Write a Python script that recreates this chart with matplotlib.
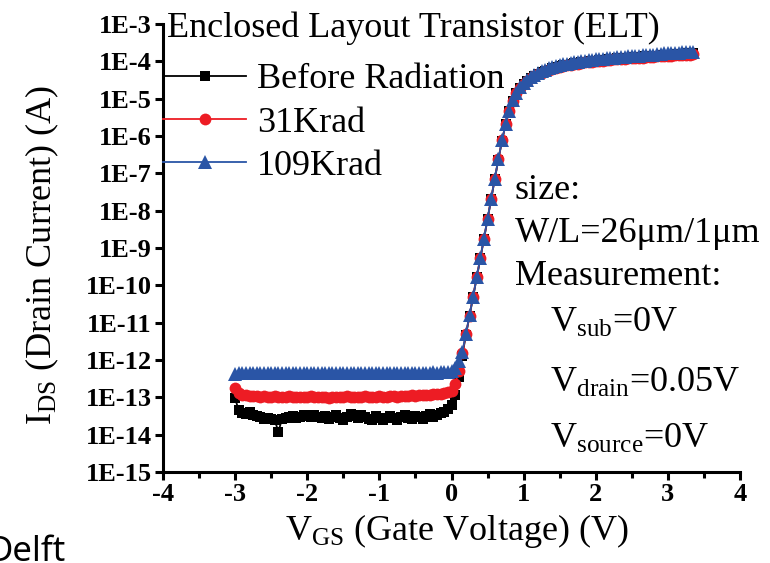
import numpy as np
import matplotlib
matplotlib.use("Agg")
import matplotlib.pyplot as plt

plt.rcParams['font.family'] = ['Liberation Serif', 'DejaVu Serif']
plt.rcParams['mathtext.fontset'] = 'custom'
plt.rcParams['mathtext.rm'] = 'Liberation Serif'
plt.rcParams['mathtext.it'] = 'Liberation Serif:italic'
plt.rcParams['mathtext.bf'] = 'Liberation Serif:bold'

# Gate voltage sweep (V)
vgs = np.round(np.arange(-3.0, 3.351, 0.05), 2)

# log10 of drain current (A)
before_log = [
    -13.03, -13.35, -13.42, -13.45, -13.40, -13.47, -13.50, -13.52, -13.58, -13.55,
    -13.57, -13.62, -13.92, -13.58, -13.55, -13.52, -13.50, -13.55, -13.52, -13.48,
    -13.50, -13.53, -13.47, -13.52, -13.55, -13.50, -13.58, -13.53, -13.48, -13.55,
    -13.60, -13.52, -13.45, -13.50, -13.55, -13.48, -13.52, -13.57, -13.60, -13.50,
    -13.55, -13.62, -13.55, -13.50, -13.56, -13.60, -13.52, -13.48, -13.55, -13.58,
    -13.50, -13.53, -13.57, -13.50, -13.45, -13.52, -13.48, -13.42, -13.38, -13.30,
    -13.20,
    -12.95, -12.45, -11.88, -11.33, -10.82, -10.31, -9.79, -9.28, -8.76, -8.23,
    -7.69, -7.15, -6.63, -6.13, -5.69, -5.33, -5.06, -4.86, -4.71,
    -4.60, -4.52, -4.45, -4.39, -4.33, -4.29, -4.25, -4.22, -4.19, -4.16,
    -4.13, -4.11, -4.09, -4.07, -4.05, -4.04, -4.02, -4.01, -4.00, -3.99,
    -3.98, -3.97, -3.96, -3.95, -3.94, -3.93, -3.92, -3.92, -3.91, -3.90,
    -3.89, -3.89, -3.88, -3.87, -3.87, -3.86, -3.85, -3.85, -3.84, -3.83,
    -3.83, -3.82, -3.81, -3.81, -3.80, -3.79, -3.79, -3.78,
]

krad31_log = [
    -12.76, -12.88, -12.93, -12.95, -12.96, -12.97, -12.96, -12.98, -12.97, -12.99,
    -12.98, -12.97, -12.99, -13.00, -12.98, -12.97, -12.99, -12.98, -13.00, -12.99,
    -12.98, -12.97, -12.99, -13.00, -12.98, -12.99, -13.01, -12.99, -12.98, -13.00,
    -12.99, -12.97, -12.98, -13.00, -12.99, -12.98, -12.97, -12.98, -12.99, -12.98,
    -12.97, -12.98, -12.99, -12.97, -12.96, -12.98, -12.97, -12.96, -12.97, -12.95,
    -12.96, -12.95, -12.94, -12.95, -12.93, -12.92, -12.91, -12.90, -12.88, -12.86,
    -12.82,
    -12.65, -12.30, -11.82, -11.31, -10.81, -10.30, -9.78, -9.27, -8.75, -8.22,
    -7.68, -7.14, -6.62, -6.12, -5.69, -5.33, -5.06, -4.86, -4.71,
    -4.60, -4.52, -4.45, -4.39, -4.34, -4.30, -4.26, -4.23, -4.20, -4.17,
    -4.15, -4.13, -4.11, -4.09, -4.07, -4.06, -4.04, -4.03, -4.02, -4.01,
    -4.00, -3.99, -3.98, -3.97, -3.96, -3.95, -3.94, -3.94, -3.93, -3.92,
    -3.92, -3.91, -3.90, -3.90, -3.89, -3.88, -3.88, -3.87, -3.86, -3.86,
    -3.85, -3.85, -3.84, -3.83, -3.83, -3.82, -3.82, -3.81,
]

krad109_log = [
    -12.37, -12.36, -12.35, -12.36, -12.35, -12.34, -12.35, -12.36, -12.35, -12.35,
    -12.34, -12.35, -12.36, -12.35, -12.34, -12.35, -12.35, -12.36, -12.35, -12.34,
    -12.35, -12.35, -12.36, -12.35, -12.34, -12.35, -12.35, -12.36, -12.35, -12.34,
    -12.35, -12.36, -12.35, -12.34, -12.35, -12.35, -12.36, -12.35, -12.34, -12.35,
    -12.35, -12.36, -12.35, -12.34, -12.35, -12.35, -12.34, -12.35, -12.34, -12.35,
    -12.34, -12.34, -12.35, -12.34, -12.34, -12.33, -12.34, -12.33, -12.33, -12.32,
    -12.30,
    -12.22, -12.02, -11.78, -11.30, -10.80, -10.30, -9.78, -9.27, -8.75, -8.22,
    -7.68, -7.14, -6.62, -6.12, -5.68, -5.32, -5.04, -4.84, -4.69,
    -4.58, -4.50, -4.43, -4.37, -4.31, -4.27, -4.23, -4.19, -4.16, -4.13,
    -4.10, -4.08, -4.06, -4.04, -4.02, -4.01, -3.99, -3.98, -3.97, -3.96,
    -3.95, -3.94, -3.93, -3.92, -3.91, -3.90, -3.89, -3.88, -3.88, -3.87,
    -3.86, -3.85, -3.85, -3.84, -3.83, -3.82, -3.82, -3.81, -3.80, -3.79,
    -3.79, -3.78, -3.77, -3.77, -3.76, -3.75, -3.75, -3.74,
]

labels = ['Before Radiation', '31Krad', '109Krad']
colors = ['#000000', '#ED1C24', '#2A55A6']
markers = ['s', 'o', '^']
msizes = [7.5, 8.5, 9.5]

ytick_exps = list(range(-15, -2))
ytick_labels = ['1E%d' % e for e in ytick_exps]
xticks = [-4, -3, -2, -1, 0, 1, 2, 3, 4]

W, H = 770, 563
fig = plt.figure(figsize=(W / 100, H / 100), dpi=100)
ax = fig.add_axes([163 / W, 1 - 472 / H, (740 - 163) / W, (472 - 24) / H])

series = [before_log, krad31_log, krad109_log]
for lg, lab, c, m, ms in zip(series, labels, colors, markers, msizes):
    ax.plot(vgs, 10.0 ** np.array(lg), color=c, marker=m, markersize=ms,
            markeredgewidth=0, linewidth=1.3, label=lab, clip_on=False)

ax.set_yscale('log')
ax.set_ylim(1e-15, 1e-3)
ax.set_xlim(-4, 4)
ax.set_yticks([10.0 ** e for e in ytick_exps])
ax.set_yticklabels(ytick_labels)
ax.yaxis.set_minor_locator(matplotlib.ticker.NullLocator())
ax.set_xticks(xticks)
ax.set_xticklabels([str(t) for t in xticks])
ax.set_xticks([-3.5, -2.5, -1.5, -0.5, 0.5, 1.5, 2.5, 3.5], minor=True)

for s in ['top', 'right']:
    ax.spines[s].set_visible(False)
for s in ['left', 'bottom']:
    ax.spines[s].set_linewidth(2.2)

ax.tick_params(axis='both', which='major', direction='out', length=6, width=2.2,
               labelsize=19, pad=2)
ax.tick_params(axis='x', which='minor', direction='out', length=4, width=2.2)
for t in ax.get_xticklabels() + ax.get_yticklabels():
    t.set_fontweight('bold')

leg = ax.legend(loc='upper left', bbox_to_anchor=(163 / W, 1 - 63 / H),
                bbox_transform=fig.transFigure, frameon=False, fontsize=26,
                handlelength=2.3, handletextpad=0.3, labelspacing=0.28,
                borderpad=0, borderaxespad=0, numpoints=1)

fig.text(167 / W, 1 - 37 / H, 'Enclosed Layout Transistor (ELT)', fontsize=26,
         ha='left', va='baseline')

fig.text(515 / W, 1 - 199 / H, 'size:', fontsize=26, ha='left', va='baseline')
fig.text(515 / W, 1 - 242 / H, 'W/L=26\u03bcm/1\u03bcm', fontsize=26, ha='left', va='baseline')
fig.text(515 / W, 1 - 285 / H, 'Measurement:', fontsize=26, ha='left', va='baseline')
fig.text(550 / W, 1 - 332 / H, r'V$_{\mathregular{sub}}$=0V', fontsize=26, ha='left', va='baseline')
fig.text(550 / W, 1 - 392 / H, r'V$_{\mathregular{drain}}$=0.05V', fontsize=26, ha='left', va='baseline')
fig.text(550 / W, 1 - 448 / H, r'V$_{\mathregular{source}}$=0V', fontsize=26, ha='left', va='baseline')

fig.text(457 / W, 1 - 540 / H, r'V$_{\mathregular{GS}}$ (Gate Voltage) (V)', fontsize=26,
         ha='center', va='baseline')
fig.text(42 / W, 1 - 255 / H, r'I$_{\mathregular{DS}}$ (Drain Current) (A)', fontsize=26,
         ha='center', va='center', rotation=90)

fig.text(-12 / W, 1 - 561 / H, 'Delft', fontsize=25, ha='left', va='baseline',
         family=['Noto Sans', 'DejaVu Sans'])

fig.savefig('out.png', dpi=100)
